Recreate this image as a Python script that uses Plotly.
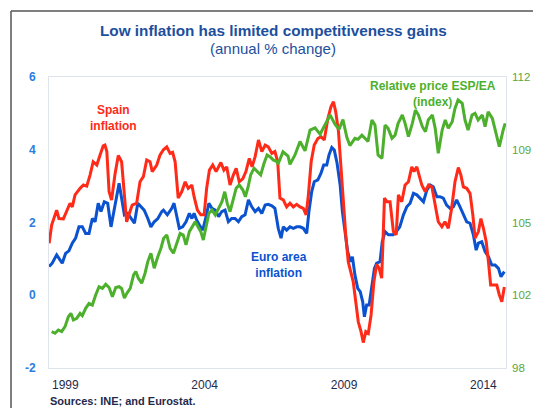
import plotly.graph_objects as go

# ---- data (decimal years; inflation in %, relative price index) ----
spain_x = [1998.42, 1998.51, 1998.69, 1998.77, 1998.93, 1999.05, 1999.17, 1999.25, 1999.35, 1999.53,
           1999.65, 1999.77, 1999.89, 2000.00, 2000.13, 2000.25, 2000.36, 2000.42, 2000.49, 2000.57,
           2000.66, 2000.78, 2000.90, 2001.02, 2001.14, 2001.20, 2001.32, 2001.40, 2001.56, 2001.68,
           2001.80, 2001.92, 2002.04, 2002.12, 2002.28, 2002.40, 2002.52, 2002.64, 2002.76, 2002.85,
           2002.94, 2003.05, 2003.18, 2003.30, 2003.41, 2003.54, 2003.62, 2003.74, 2003.86, 2003.98,
           2004.07, 2004.17, 2004.29, 2004.41, 2004.58, 2004.69, 2004.79, 2004.91, 2005.03, 2005.13,
           2005.24, 2005.37, 2005.48, 2005.60, 2005.70, 2005.81, 2005.93, 2006.05, 2006.17, 2006.28,
           2006.41, 2006.52, 2006.62, 2006.70, 2006.82, 2006.94, 2007.06, 2007.18, 2007.30, 2007.42,
           2007.54, 2007.64, 2007.72, 2007.82, 2007.93, 2008.06, 2008.17, 2008.29, 2008.42, 2008.53,
           2008.62, 2008.70, 2008.80, 2008.89, 2008.97, 2009.06, 2009.15, 2009.25, 2009.33, 2009.42,
           2009.51, 2009.61, 2009.69, 2009.78, 2009.87, 2009.97, 2010.07, 2010.17, 2010.26, 2010.35,
           2010.45, 2010.54, 2010.65, 2010.77, 2010.87, 2010.95, 2011.07, 2011.19, 2011.31, 2011.43,
           2011.51, 2011.61, 2011.70, 2011.79, 2011.91, 2012.03, 2012.15, 2012.27, 2012.38, 2012.51,
           2012.62, 2012.74, 2012.86, 2012.98, 2013.10, 2013.19, 2013.28, 2013.40, 2013.52, 2013.62,
           2013.70, 2013.82, 2013.91, 2014.00, 2014.10, 2014.18, 2014.26, 2014.36, 2014.48, 2014.57,
           2014.66, 2014.75]
spain_inflation = [1.43, 1.93, 2.34, 2.11, 2.10, 2.30, 2.53, 2.43, 2.76, 2.94,
                   3.03, 3.00, 3.31, 3.67, 3.58, 3.86, 4.11, 4.13, 3.95, 2.85,
                   2.62, 3.31, 3.84, 3.67, 2.57, 2.02, 2.30, 2.48, 2.53, 3.12,
                   3.26, 3.72, 3.67, 3.40, 3.58, 3.86, 4.00, 4.08, 3.90, 3.93,
                   3.67, 2.67, 2.85, 3.12, 2.94, 3.03, 2.71, 2.34, 2.21, 2.21,
                   2.94, 3.44, 3.58, 3.40, 3.65, 3.44, 3.53, 3.03, 3.31, 3.49,
                   3.12, 3.21, 3.40, 3.76, 3.53, 3.81, 4.27, 3.95, 4.13, 4.08,
                   3.90, 3.95, 3.67, 2.67, 2.62, 2.43, 2.53, 2.43, 2.50, 2.43,
                   2.39, 2.21, 2.76, 3.67, 4.13, 4.31, 4.36, 4.27, 4.86, 5.18,
                   5.32, 5.05, 4.50, 3.49, 2.39, 1.66, 0.92, 0.65, 0.37, -0.18,
                   -0.73, -1.00, -1.30, -1.00, -1.05, -0.54, 0.37, 0.85, 0.74, 0.47,
                   2.67, 2.57, 2.57, 1.75, 1.66, 2.76, 2.57, 3.03, 3.12, 3.53,
                   3.40, 3.53, 3.31, 3.03, 2.85, 3.03, 2.98, 2.48, 2.02, 1.88,
                   2.02, 1.84, 2.39, 3.12, 3.51, 3.31, 2.98, 2.94, 2.80, 2.21,
                   1.57, 1.75, 2.11, 1.84, 1.47, 0.92, 0.28, 0.28, 0.28, 0.01,
                   -0.18, 0.23]

euro_x = [1998.42, 1998.53, 1998.69, 1998.81, 1998.89, 1999.01, 1999.13, 1999.25, 1999.37, 1999.49,
          1999.61, 1999.73, 1999.85, 1999.97, 2000.07, 2000.18, 2000.28, 2000.40, 2000.52, 2000.64,
          2000.72, 2000.84, 2000.93, 2001.02, 2001.12, 2001.24, 2001.36, 2001.48, 2001.60, 2001.72,
          2001.83, 2001.96, 2002.07, 2002.19, 2002.32, 2002.46, 2002.52, 2002.66, 2002.82, 2002.90,
          2003.00, 2003.09, 2003.21, 2003.33, 2003.45, 2003.54, 2003.62, 2003.71, 2003.81, 2003.93,
          2004.05, 2004.15, 2004.26, 2004.38, 2004.50, 2004.61, 2004.73, 2004.85, 2004.97, 2005.09,
          2005.21, 2005.33, 2005.45, 2005.57, 2005.69, 2005.81, 2005.93, 2006.05, 2006.17, 2006.28,
          2006.41, 2006.52, 2006.64, 2006.74, 2006.82, 2006.94, 2007.06, 2007.18, 2007.30, 2007.42,
          2007.54, 2007.66, 2007.74, 2007.84, 2007.93, 2008.06, 2008.17, 2008.27, 2008.38, 2008.46,
          2008.56, 2008.65, 2008.75, 2008.86, 2008.94, 2009.04, 2009.13, 2009.23, 2009.30, 2009.39,
          2009.49, 2009.58, 2009.67, 2009.73, 2009.81, 2009.90, 2009.99, 2010.09, 2010.17, 2010.29,
          2010.37, 2010.47, 2010.59, 2010.76, 2010.88, 2011.00, 2011.13, 2011.25, 2011.37, 2011.49,
          2011.61, 2011.73, 2011.85, 2011.97, 2012.09, 2012.20, 2012.33, 2012.44, 2012.56, 2012.68,
          2012.80, 2012.92, 2013.04, 2013.16, 2013.28, 2013.40, 2013.52, 2013.64, 2013.74, 2013.82,
          2013.94, 2014.06, 2014.18, 2014.30, 2014.42, 2014.54, 2014.63, 2014.75]
euro_inflation = [0.79, 0.88, 1.11, 0.97, 0.88, 1.15, 1.22, 1.43, 1.57, 1.88,
                  1.88, 1.70, 1.70, 2.11, 2.02, 2.53, 2.30, 2.57, 2.53, 1.88,
                  2.21, 2.67, 3.08, 2.67, 2.21, 2.25, 2.11, 1.98, 2.53, 2.43,
                  2.34, 2.11, 1.88, 2.02, 2.11, 2.30, 2.34, 2.21, 2.39, 2.53,
                  2.11, 1.84, 1.88, 2.02, 2.25, 2.11, 2.25, 2.07, 1.93, 1.79,
                  2.16, 2.53, 2.39, 2.34, 2.16, 2.30, 2.34, 2.02, 2.11, 2.11,
                  2.02, 2.16, 2.21, 2.62, 2.43, 2.30, 2.39, 2.25, 2.48, 2.50,
                  2.46, 2.39, 1.84, 1.57, 1.88, 1.79, 1.88, 1.84, 1.88, 1.88,
                  1.84, 1.70, 2.30, 2.85, 3.12, 3.17, 3.35, 3.58, 3.58, 3.86,
                  4.06, 3.99, 3.63, 3.03, 2.30, 1.75, 1.20, 0.92, 1.06, 0.56,
                  0.19, 0.10, -0.18, -0.59, -0.27, -0.27, 0.19, 0.74, 0.88, 0.92,
                  1.47, 1.75, 1.66, 1.66, 1.75, 1.88, 2.21, 2.43, 2.53, 2.80,
                  2.76, 2.67, 2.57, 2.89, 3.03, 2.98, 2.71, 2.71, 2.67, 2.48,
                  2.39, 2.43, 2.62, 2.43, 2.21, 2.02, 1.98, 1.66, 1.24, 1.43,
                  1.47, 1.20, 1.06, 0.83, 0.83, 0.74, 0.51, 0.65]

relprice_x = [1998.51, 1998.63, 1998.75, 1998.87, 1998.99, 1999.11, 1999.20, 1999.29, 1999.41, 1999.53,
              1999.61, 1999.73, 1999.85, 1999.97, 2000.09, 2000.21, 2000.33, 2000.45, 2000.57, 2000.69,
              2000.81, 2000.93, 2001.02, 2001.12, 2001.21, 2001.33, 2001.45, 2001.53, 2001.62, 2001.74,
              2001.86, 2001.96, 2002.07, 2002.19, 2002.32, 2002.43, 2002.53, 2002.64, 2002.76, 2002.88,
              2003.00, 2003.12, 2003.23, 2003.33, 2003.45, 2003.57, 2003.66, 2003.76, 2003.86, 2003.95,
              2004.05, 2004.15, 2004.26, 2004.38, 2004.50, 2004.62, 2004.72, 2004.81, 2004.91, 2005.01,
              2005.13, 2005.24, 2005.37, 2005.46, 2005.56, 2005.65, 2005.77, 2005.89, 2006.01, 2006.13,
              2006.24, 2006.34, 2006.46, 2006.59, 2006.63, 2006.81, 2006.99, 2007.06, 2007.24, 2007.42,
              2007.60, 2007.78, 2007.96, 2008.14, 2008.32, 2008.50, 2008.68, 2008.82, 2008.96, 2009.10,
              2009.21, 2009.39, 2009.50, 2009.64, 2009.75, 2009.86, 2010.00, 2010.11, 2010.22, 2010.36,
              2010.47, 2010.58, 2010.72, 2010.83, 2010.94, 2011.09, 2011.19, 2011.31, 2011.45, 2011.56,
              2011.67, 2011.81, 2011.92, 2012.02, 2012.17, 2012.27, 2012.38, 2012.52, 2012.63, 2012.74,
              2012.88, 2012.98, 2013.09, 2013.24, 2013.34, 2013.45, 2013.59, 2013.70, 2013.81, 2013.96,
              2014.06, 2014.17, 2014.32, 2014.42, 2014.57, 2014.71, 2014.78]
relprice_index = [99.75, 99.67, 99.83, 99.75, 99.99, 100.47, 100.63, 100.31, 100.39, 100.63,
                  100.52, 100.87, 101.11, 101.03, 101.51, 101.91, 101.83, 102.03, 101.87, 101.43,
                  101.87, 101.91, 101.83, 101.36, 101.60, 101.83, 102.48, 102.64, 102.32, 102.08,
                  102.56, 103.12, 103.52, 102.80, 103.36, 103.76, 104.24, 104.40, 103.76, 103.52,
                  104.00, 104.48, 104.40, 103.92, 104.56, 104.80, 105.04, 104.80, 104.56, 104.16,
                  104.88, 105.44, 105.60, 105.36, 105.68, 106.00, 106.48, 105.92, 105.52, 106.08,
                  106.65, 106.81, 106.56, 106.24, 106.72, 107.29, 107.61, 107.45, 107.29, 107.85,
                  108.25, 108.17, 108.01, 107.93, 107.80, 108.40, 108.20, 107.80, 108.25, 108.90,
                  108.45, 109.45, 109.55, 109.25, 109.75, 110.17, 109.72, 109.48, 109.95, 109.10,
                  108.70, 109.05, 109.00, 109.20, 109.05, 108.90, 109.93, 109.69, 108.25, 108.09,
                  109.69, 109.53, 109.05, 109.20, 109.77, 110.17, 109.77, 109.13, 109.77, 110.41,
                  110.17, 109.61, 109.37, 109.93, 110.17, 109.53, 108.33, 109.45, 109.93, 109.53,
                  109.85, 110.49, 110.89, 110.73, 109.93, 109.45, 110.17, 110.25, 109.93, 110.17,
                  109.61, 110.33, 110.01, 109.45, 108.65, 109.45, 109.77]

year_ticks = [1999, 2004, 2009, 2014]
left_ticks = [-2, 0, 2, 4, 6]
left_ticktext = ["-2", "0", "2", "4", "6"]
right_tickvals = [98, 101.5, 105, 108.5, 112]
right_ticktext = ["98", "102", "105", "109", "112"]

# ---- styling ----
RED = "#ff2a17"
BLUE = "#0a52cf"
GREEN = "#4cb02c"
TITLE_BLUE = "#1d4f9e"
TICK_BLUE = "#2b7de0"
TICK_GREEN = "#5aa83c"
NAVY = "#1f2a4a"
FONT = "Liberation Sans, Arial, sans-serif"

W, H = 533, 408
ML, MR, MT, MB = 49, 27, 77, 40


def px(x):
    return (x - ML) / (W - ML - MR)


def py(y):
    return (H - MB - y) / (H - MT - MB)


fig = go.Figure()
fig.add_trace(go.Scatter(x=relprice_x, y=relprice_index, mode="lines", yaxis="y2",
                         line=dict(color=GREEN, width=3), hoverinfo="skip"))
fig.add_trace(go.Scatter(x=euro_x, y=euro_inflation, mode="lines",
                         line=dict(color=BLUE, width=3), hoverinfo="skip"))
fig.add_trace(go.Scatter(x=spain_x, y=spain_inflation, mode="lines",
                         line=dict(color=RED, width=3), hoverinfo="skip"))

annotations = [
    dict(text="<b>Low inflation has limited competitiveness gains</b>", x=px(273), y=py(31),
         font=dict(size=15.3, color=TITLE_BLUE)),
    dict(text="(annual % change)", x=px(273), y=py(49), font=dict(size=15, color=TITLE_BLUE)),
    dict(text="<b>Spain<br>inflation</b>", x=px(113), y=py(118), font=dict(size=12, color=RED)),
    dict(text="<b>Euro area<br>inflation</b>", x=px(279), y=py(265), font=dict(size=12, color=BLUE)),
    dict(text="<b>Relative price ESP/EA<br>(index)</b>", x=px(433), y=py(94),
         font=dict(size=12, color=GREEN)),
]
for a in annotations:
    a.update(xref="paper", yref="paper", xanchor="center", yanchor="middle",
             showarrow=False, align="center")
    a["font"]["family"] = FONT
annotations.append(dict(text="<b>Sources: INE; and Eurostat.</b>", xref="paper", yref="paper",
                        x=px(49), y=py(408), xanchor="left", yanchor="bottom", showarrow=False,
                        borderpad=0, font=dict(size=11, color=NAVY, family=FONT)))

fig.update_layout(
    width=W, height=H,
    margin=dict(l=ML, r=MR, t=MT, b=MB),
    paper_bgcolor="white", plot_bgcolor="white",
    showlegend=False,
    font=dict(family=FONT),
    annotations=annotations,
    shapes=[
        # outer frame (left and top edges visible)
        dict(type="line", xref="paper", yref="paper", x0=px(11), x1=px(11), y0=py(11), y1=py(420),
             line=dict(color="#555555", width=1.5)),
        dict(type="line", xref="paper", yref="paper", x0=px(11), x1=px(545), y0=py(11), y1=py(11),
             line=dict(color="#555555", width=1.5)),
    ],
    xaxis=dict(range=[1998.415, 2014.81], tickvals=year_ticks, ticktext=[str(v) for v in year_ticks],
               showgrid=False, zeroline=False, showline=True, mirror=True, automargin=False,
               linecolor="#dfe4ec", linewidth=1, ticks="",
               tickfont=dict(size=12, color=NAVY), ticklabelstandoff=6),
    yaxis=dict(range=[-2, 6], tickvals=left_ticks, ticktext=left_ticktext, showgrid=False,
               zeroline=False, automargin=False,
               showline=True, mirror=True, linecolor="#dfe4ec", linewidth=1, ticks="",
               tickfont=dict(size=12, color=TICK_BLUE, weight="bold"), ticklabelstandoff=10),
    yaxis2=dict(range=[98, 112], tickvals=right_tickvals, ticktext=right_ticktext,
                overlaying="y", side="right", showgrid=False, zeroline=False, ticks="",
                automargin=False,
                tickfont=dict(size=11.5, color=TICK_GREEN), ticklabelstandoff=5),
)

fig.write_html("out.html")
